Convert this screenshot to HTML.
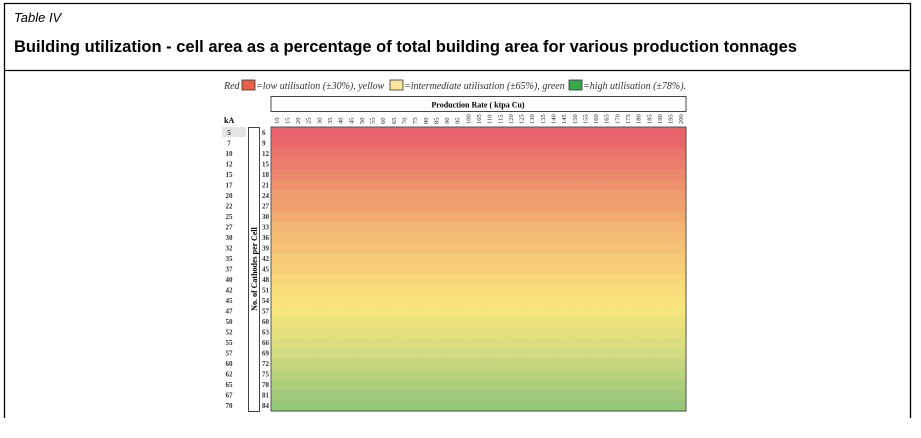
<!DOCTYPE html>
<html><head><meta charset="utf-8"><style>
body{margin:0;background:#fff;width:921px;height:433px;overflow:hidden;font-family:"Liberation Sans",sans-serif}
</style></head><body>
<svg width="921" height="433" viewBox="0 0 921 433" xmlns="http://www.w3.org/2000/svg">
  <g stroke="#000" stroke-width="1.3" fill="none">
    <line x1="4" y1="3.5" x2="911" y2="3.5"/>
    <line x1="4.5" y1="3" x2="4.5" y2="418"/>
    <line x1="910.5" y1="3" x2="910.5" y2="418"/>
    <line x1="4" y1="70.5" x2="911" y2="70.5"/>
  </g>
  <text x="14" y="22" font-size="13" font-style="italic">Table IV</text>
  <text x="14" y="52" font-size="16.5" font-weight="bold">Building utilization - cell area as a percentage of total building area for various production tonnages</text>
  <g font-family="Liberation Serif, serif" font-style="italic" font-size="10" fill="#333">
    <text x="224" y="89">Red</text>
    <rect x="242" y="80" width="13" height="10" fill="#e8604a" stroke="#333" stroke-width="0.8"/>
    <text x="256" y="89">=low utilisation (±30%), yellow</text>
    <rect x="390" y="80" width="13" height="10" fill="#fbe59a" stroke="#333" stroke-width="0.8"/>
    <text x="404" y="89">=intermediate utilisation (±65%), green</text>
    <rect x="569" y="80" width="13" height="10" fill="#3aa84e" stroke="#333" stroke-width="0.8"/>
    <text x="583" y="89">=high utilisation (±78%).</text>
  </g>
  <rect x="271" y="96.5" width="415" height="15" fill="#fff" stroke="#444" stroke-width="1"/>
  <text x="478" y="107.5" font-family="Liberation Serif, serif" font-weight="bold" font-size="8" text-anchor="middle">Production Rate ( ktpa Cu)</text>
  <text x="224" y="123" font-family="Liberation Serif, serif" font-weight="bold" font-size="8">kA</text>
  <rect x="248.5" y="127.5" width="11" height="284" fill="#fff" stroke="#444" stroke-width="1"/>
  <text transform="translate(257,269) rotate(-90)" font-family="Liberation Serif, serif" font-weight="bold" font-size="8" text-anchor="middle">No. of Cathodes per Cell</text>
  <rect x="222" y="127" width="24" height="10" fill="#e4e4e4"/>
  <g id="heat"></g>
  <g id="xlab"></g>
  <g id="ylab"></g>
  <rect x="271" y="127" width="415" height="284" fill="none" stroke="#555" stroke-width="1"/>
</svg>
<script>
const productionRates = [10,15,20,25,30,35,40,45,50,55,60,65,70,75,80,85,90,95,100,105,110,115,120,125,130,135,140,145,150,155,160,165,170,175,180,185,190,195,200];
const kaLabels = [5,7,10,12,15,17,20,22,25,27,30,32,35,37,40,42,45,47,50,52,55,57,60,62,65,67,70];
const cathodeLabels = [6,9,12,15,18,21,24,27,30,33,36,39,42,45,48,51,54,57,60,63,66,69,72,75,78,81,84];
const utilisation = [30,31,33,35,37,39,41,42,44,46,48,49,51,52,54,55,56,58,60,62,64,66,68,70,72,74,76];

const NS="http://www.w3.org/2000/svg";
const X0=271,X1=686,Y0=127,Y1=411;
const cw=(X1-X0)/productionRates.length, rh=(Y1-Y0)/kaLabels.length;
function xPos(i){return X0+i*cw;}
function yPos(j){return Y0+j*rh;}
const stops=[[30,[232,100,106]],[43,[240,166,112]],[57,[250,230,124]],[67,[204,218,128]],[78,[136,194,118]]];
function colour(v){
  if(v<=stops[0][0])return `rgb(${stops[0][1]})`;
  for(let k=1;k<stops.length;k++){if(v<=stops[k][0]){const a=stops[k-1],b=stops[k],t=(v-a[0])/(b[0]-a[0]);
    return `rgb(${a[1].map((c,i)=>Math.round(c+(b[1][i]-c)*t)).join(',')})`;}}
  return `rgb(${stops[stops.length-1][1]})`;
}
const heat=document.getElementById('heat');
kaLabels.forEach((ka,j)=>{productionRates.forEach((p,i)=>{
  const r=document.createElementNS(NS,'rect');
  r.setAttribute('x',xPos(i));r.setAttribute('y',yPos(j));
  r.setAttribute('width',cw+0.6);r.setAttribute('height',rh+0.6);
  r.setAttribute('fill',colour(utilisation[j]));
  
  
  heat.appendChild(r);
});});
const xl=document.getElementById('xlab');
productionRates.forEach((p,i)=>{
  const t=document.createElementNS(NS,'text');
  const cx=xPos(i)+cw/2+2.5;
  t.setAttribute('transform',`translate(${cx},124) rotate(-90)`);
  t.setAttribute('font-family','Liberation Serif, serif');t.setAttribute('font-size','6.5');t.setAttribute('fill','#222');
  t.textContent=p;
  
  
  xl.appendChild(t);
});
const yl=document.getElementById('ylab');
kaLabels.forEach((k,j)=>{
  const cy=yPos(j)+rh/2+2.5;
  const t=document.createElementNS(NS,'text');
  t.setAttribute('x',229);t.setAttribute('y',cy);
  t.setAttribute('font-family','Liberation Serif, serif');t.setAttribute('font-size','7');t.setAttribute('font-weight','bold');t.setAttribute('fill','#333');t.setAttribute('text-anchor','middle');
  t.textContent=k;
  
  
  yl.appendChild(t);
  const c=document.createElementNS(NS,'text');
  c.setAttribute('x',262);c.setAttribute('y',cy);
  c.setAttribute('font-family','Liberation Serif, serif');c.setAttribute('font-size','7');c.setAttribute('font-weight','bold');c.setAttribute('fill','#333');
  c.textContent=cathodeLabels[j];
  
  
  yl.appendChild(c);
});
</script>
</body></html>
